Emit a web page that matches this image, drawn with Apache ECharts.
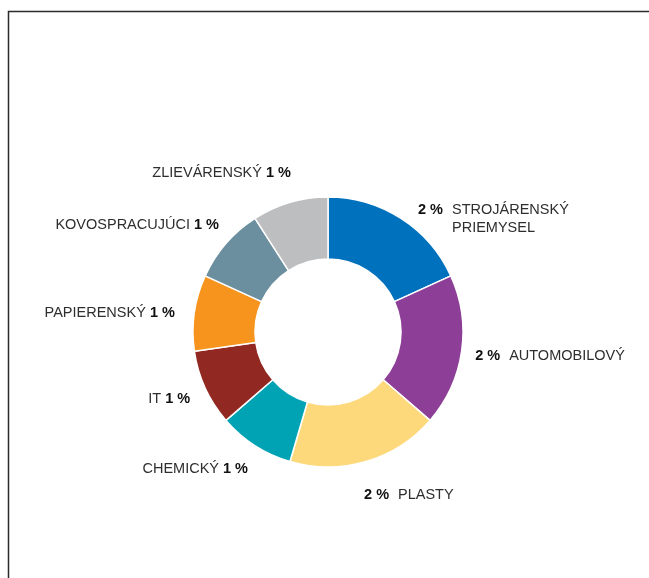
<!DOCTYPE html>
<html>
<head>
<meta charset="utf-8">
<script src="https://cdn.jsdelivr.net/npm/echarts@6/dist/echarts.min.js"></script>
<style>
  html, body { margin: 0; padding: 0; background: #fff; }
  #chart { width: 649px; height: 578px; }
</style>
</head>
<body>
<div id="chart"></div>
<script>
var names = ['STROJÁRENSKÝ\nPRIEMYSEL', 'AUTOMOBILOVÝ', 'PLASTY', 'CHEMICKÝ', 'IT', 'PAPIERENSKÝ', 'KOVOSPRACUJÚCI', 'ZLIEVÁRENSKÝ'];
var values = [2, 2, 2, 1, 1, 1, 1, 1];
var colors = ['#0071bc', '#8d3f97', '#fdd97b', '#00a3b3', '#922822', '#f7941d', '#6c8fa0', '#bcbec0'];

// label nudges from the default outside position [dx, dy]
var labelOffsets = [[17, 0.5], [13.5, 5], [-2, 33.5], [-7, 23.5], [-15, 11], [-19.5, 0.5], [-7, -18.5], [1, -29.5]];

var total = values.reduce(function (a, b) { return a + b; }, 0);

function onRightSide(idx) {
    var before = 0;
    for (var i = 0; i < idx; i++) before += values[i];
    return (before + values[idx] / 2) / total < 0.5;
}

var pieData = names.map(function (n, i) {
    return { name: n, value: values[i], itemStyle: { color: colors[i] } };
});

var font = 'Liberation Sans, Arial, sans-serif';
var chart = echarts.init(document.getElementById('chart'));

chart.setOption({
    animation: false,
    graphic: [{
        type: 'polyline',
        shape: { points: [[8.5, 578], [8.5, 11.5], [649, 11.5]] },
        style: { stroke: '#2b2b2b', lineWidth: 1.5, fill: null }
    }],
    series: [{
        type: 'pie',
        center: [328, 332],
        radius: [73, 135],
        startAngle: 90,
        avoidLabelOverlap: false,
        itemStyle: { borderColor: '#fff', borderWidth: 1.5 },
        labelLine: { show: false, length: 0, length2: 0 },
        label: {
            show: true,
            position: 'outside',
            distanceToLabelLine: 0,
            color: '#2e2e2e',
            fontFamily: font,
            fontSize: 14.5,
            lineHeight: 18,
            formatter: function (p) {
                var parts = p.name.split('\n');
                if (onRightSide(p.dataIndex)) {
                    var s = '{w|' + p.value + ' %}{n|' + parts[0] + '}';
                    for (var i = 1; i < parts.length; i++) s += '\n{sp|}{n|' + parts[i] + '}';
                    return s;
                }
                return '{n|' + parts.join(' ') + ' }{p|' + p.value + ' %}';
            },
            rich: {
                n: { color: '#2e2e2e', fontSize: 14.5, fontFamily: font, lineHeight: 18 },
                p: { color: '#111', fontSize: 14.5, fontWeight: 'bold', fontFamily: font, lineHeight: 18 },
                w: { width: 34, color: '#111', fontSize: 14.5, fontWeight: 'bold', fontFamily: font, lineHeight: 18 },
                sp: { width: 34, lineHeight: 18 }
            }
        },
        labelLayout: function (params) {
            var off = labelOffsets[params.dataIndex];
            var r = params.labelRect;
            var ax = params.align === 'right' ? r.x + r.width : r.x;
            var ay = r.y + r.height / 2;
            return { x: ax + off[0], y: ay + off[1] };
        },
        data: pieData
    }]
});
</script>
</body>
</html>
